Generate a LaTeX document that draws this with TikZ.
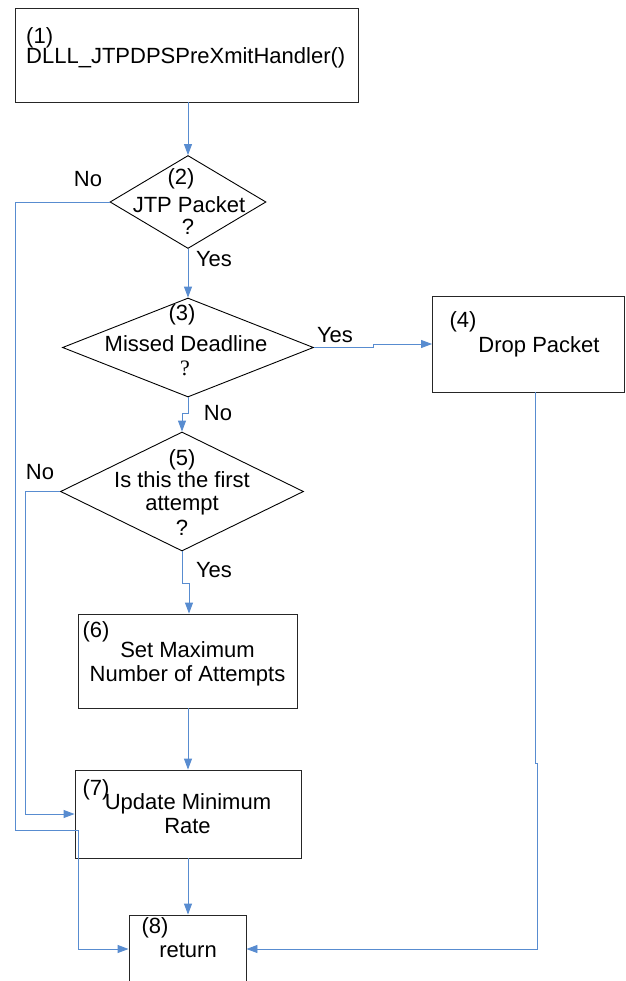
\documentclass[tikz,border=0pt]{standalone}
\usepackage{fontspec}
\setmainfont{Liberation Sans}
\newfontfamily\serifq{Liberation Serif}
\usetikzlibrary{shapes.geometric,arrows.meta}
\definecolor{flowblue}{RGB}{88,140,208}
\tikzset{
  procbox/.style={draw=black!85, line width=0.9pt, rectangle, inner sep=0pt},
  decision/.style={draw=black, line width=0.9pt, diamond, inner sep=0pt},
  txt/.style={anchor=base, inner sep=0pt, font=\fontsize{22}{25}\selectfont},
  flow/.style={draw=flowblue, line width=0.9pt},
  flowarrow/.style={flow, -{Triangle[length=11pt,width=8pt]}}
}
\begin{document}
\begin{tikzpicture}[x=1pt,y=-1pt]
\useasboundingbox (0,0) rectangle (625,981);
\clip (0,0) rectangle (625,981);
\fill[white] (0,0) rectangle (625,981);

% process boxes and decisions
\node[procbox, minimum width=343pt, minimum height=94pt] (b1) at (186.5,55) {};
\node[decision, minimum width=156pt, minimum height=93pt] (d2) at (188,202) {};
\node[decision, minimum width=251pt, minimum height=99pt] (d3) at (188,347.5) {};
\node[procbox, minimum width=192pt, minimum height=96pt] (b4) at (528.5,344) {};
\node[decision, minimum width=243pt, minimum height=119pt] (d5) at (182,491.5) {};
\node[procbox, minimum width=219pt, minimum height=94pt] (b6) at (187.5,661) {};
\node[procbox, minimum width=226pt, minimum height=88pt] (b7) at (188,814) {};
\node[procbox, minimum width=117pt, minimum height=80pt] (b8) at (187.5,955) {};

% texts
\node[txt, anchor=base west] (t1a) at (26,44) {(1)};
\node[txt, anchor=base west] (t1b) at (26,64) {DLLL\_JTPDPSPreXmitHandler()};
\node[txt] (t2a) at (181,185) {(2)};
\node[txt] (t2b) at (189,213) {JTP Packet};
\node[txt] (t2c) at (188,235) {?};
\node[txt] (t3a) at (182,320) {(3)};
\node[txt] (t3b) at (186,351) {Missed Deadline};
\node[txt, font=\serifq\fontsize{22}{25}\selectfont] (t3c) at (185,375) {?};
\node[txt] (t4a) at (463,327) {(4)};
\node[txt] (t4b) at (539,352) {Drop Packet};
\node[txt] (t5a) at (182,465) {(5)};
\node[txt] (t5b) at (182,487) {Is this the first};
\node[txt] (t5c) at (182,510) {attempt};
\node[txt] (t5d) at (182,535) {?};
\node[txt] (t6a) at (96,637) {(6)};
\node[txt] (t6b) at (187.5,657) {Set Maximum};
\node[txt] (t6c) at (187.5,681) {Number of Attempts};
\node[txt] (t7a) at (96,795) {(7)};
\node[txt] (t7b) at (188,809) {Update Minimum};
\node[txt] (t7c) at (187.5,833) {Rate};
\node[txt] (t8a) at (155,933) {(8)};
\node[txt] (t8b) at (188,957) {return};

% branch labels
\node[txt] (l2no) at (88,187) {No};
\node[txt] (l2yes) at (214,267) {Yes};
\node[txt] (l3yes) at (335,342) {Yes};
\node[txt] (l3no) at (218,420) {No};
\node[txt] (l5no) at (40,479) {No};
\node[txt] (l5yes) at (214,577) {Yes};

% routing points
\coordinate (p2a) at (15,202);
\coordinate (p2b) at (15,830);
\coordinate (p2c) at (78,830);
\coordinate (p2d) at (78,949);
\coordinate (p3a) at (373,347.5);
\coordinate (p3b) at (373,344);
\coordinate (p3c) at (188,413);
\coordinate (p3d) at (182,413);
\coordinate (p5a) at (25,491.5);
\coordinate (p5b) at (182,583);
\coordinate (p5c) at (189,583);
\coordinate (p4a) at (535,392);
\coordinate (p4b) at (535,763);
\coordinate (p4c) at (537,763);
\coordinate (p4d) at (537,949);

% connectors
\draw[flowarrow] (b1.south -| d2.north) -- (d2.north);
\draw[flowarrow] (d2.south) -- (d3.north);
\draw[flowarrow] (d2.west) -- (p2a) -- (p2b) -- (p2c) -- (p2d) -- (b8.west |- p2d);
\draw[flowarrow] (d3.east) -- (p3a) -- (p3b) -- (b4.west);
\draw[flowarrow] (d3.south) -- (p3c) -- (p3d) -- (d5.north);
\draw[flowarrow] (d5.west) -- (p5a) |- (b7.west);
\draw[flowarrow] (d5.south) -- (p5b) -- (p5c) -- (p5c |- b6.north);
\draw[flowarrow] (b6.south -| b7.north) -- (b7.north);
\draw[flowarrow] (b7.south) -- (b8.north -| b7.south);
\draw[flowarrow] (p4a) -- (p4b) -- (p4c) -- (p4d) -- (b8.east |- p4d);
\end{tikzpicture}
\end{document}
